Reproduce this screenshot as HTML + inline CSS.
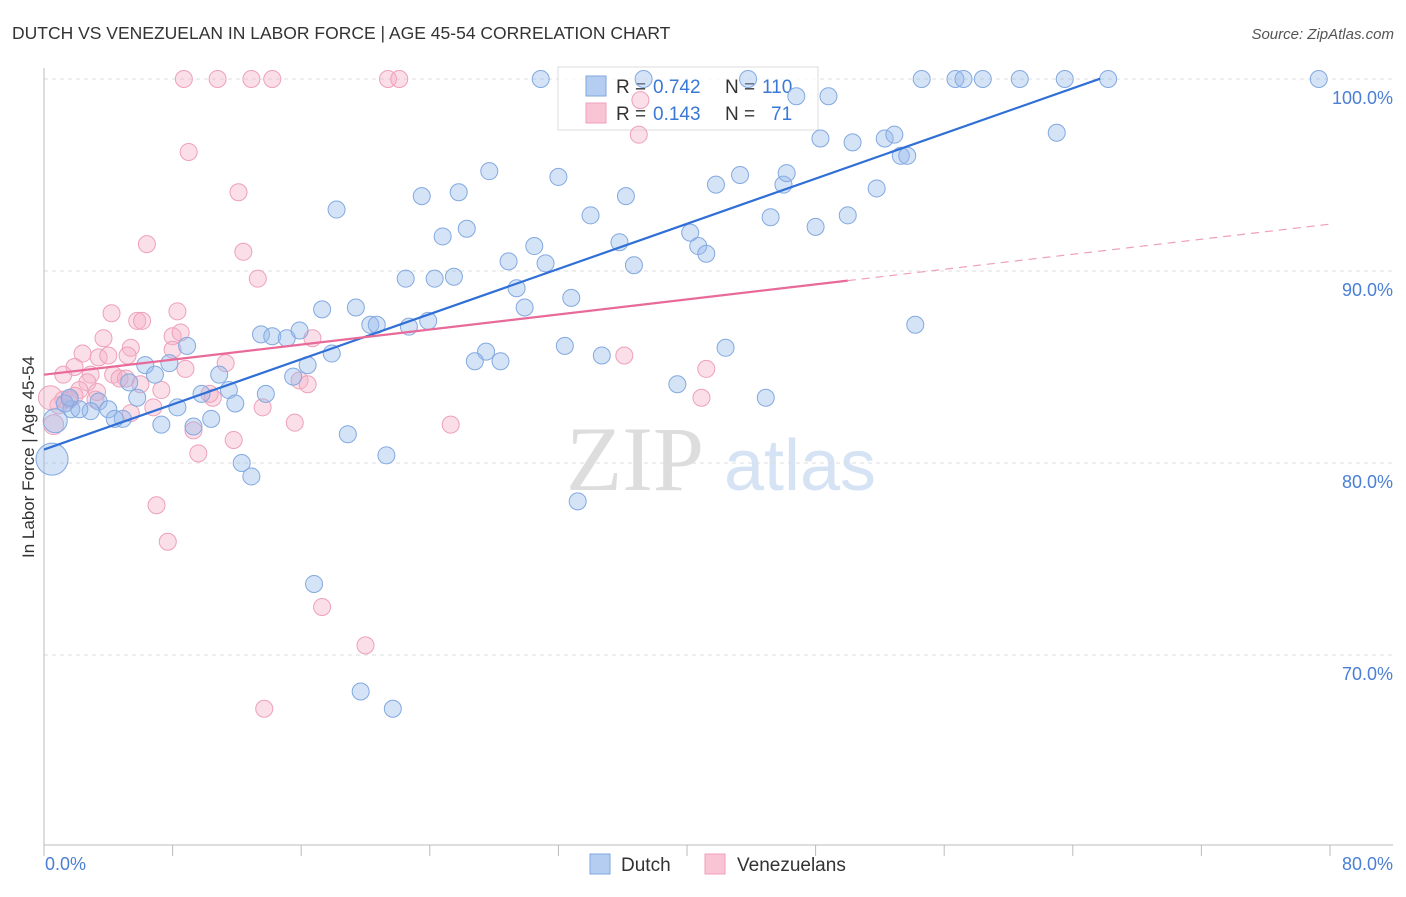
<!DOCTYPE html>
<html><head><meta charset="utf-8"><style>
body{margin:0;background:#fff;}
svg text{font-family:"Liberation Sans",sans-serif;}
</style></head><body>
<svg id="chart" width="1406" height="892" xmlns="http://www.w3.org/2000/svg">
<text x="12" y="39" font-size="17.5" fill="#333">DUTCH VS VENEZUELAN IN LABOR FORCE | AGE 45-54 CORRELATION CHART</text>
<text x="1394" y="39" font-size="15" fill="#555" font-style="italic" text-anchor="end">Source: ZipAtlas.com</text>
<text transform="translate(34,457) rotate(-90)" font-size="17" fill="#333" text-anchor="middle">In Labor Force | Age 45-54</text>
<g>
<text x="635" y="490" font-size="92" fill="#ddd" text-anchor="middle" style="font-family:'Liberation Serif',serif">ZIP</text>
<text x="800" y="490" font-size="72" fill="#d5e3f5" text-anchor="middle">atlas</text>
</g>
<g id="grid"></g><g id="axes"></g>
<g>
<rect x="558" y="67" width="260" height="63" fill="#fff" fill-opacity="0.75" stroke="#ddd"/>
<rect x="586" y="76" width="20" height="20" fill="#b5cdf0" stroke="#7fa6df"/>
<text x="616" y="93" font-size="19" fill="#333">R =</text>
<text x="653" y="93" font-size="19" fill="#3a78d6">0.742</text>
<text x="725" y="93" font-size="19" fill="#333">N =</text>
<text x="762" y="93" font-size="19" fill="#3a78d6">110</text>
<rect x="586" y="103" width="20" height="20" fill="#f9c5d5" stroke="#eea0ba"/>
<text x="616" y="120" font-size="19" fill="#333">R =</text>
<text x="653" y="120" font-size="19" fill="#3a78d6">0.143</text>
<text x="725" y="120" font-size="19" fill="#333">N =</text>
<text x="771" y="120" font-size="19" fill="#3a78d6">71</text>
</g>
<g id="marks"></g>
<g>
<rect x="590" y="854" width="20" height="20" fill="#b5cdf0" stroke="#7fa6df"/>
<text x="621" y="871" font-size="19" fill="#333">Dutch</text>
<rect x="705" y="854" width="20" height="20" fill="#f9c5d5" stroke="#eea0ba"/>
<text x="737" y="871" font-size="19" fill="#333">Venezuelans</text>
</g>
</svg>
<script>
const yTicks=[100,90,80,70];
const yTickLabels=["100.0%","90.0%","80.0%","70.0%"];
const xTickValues=[0,8,16,24,32,40,48,56,64,72,80];
const xEndLabels=["0.0%","80.0%"];
const dutchX=[30.9,37.3,43.8,54.6,56.7,57.2,58.4,60.7,63.5,66.2,79.3,48.8,46.8,48.3,50.3,52.3,52.9,53.3,53.7,63.0,32.0,27.7,25.8,23.5,18.2,34.0,36.2,43.3,41.8,46.0,46.2,51.8,45.2,48.0,50.0,26.3,24.8,30.5,28.9,31.2,35.8,36.7,40.2,40.7,41.2,22.5,24.3,25.5,29.4,32.8,17.3,19.4,29.9,20.3,20.7,22.7,23.9,13.5,14.2,15.1,15.9,16.4,17.9,8.9,6.3,7.8,6.9,5.3,10.9,15.5,13.8,11.5,9.8,11.9,5.8,8.3,3.4,2.9,4.0,4.9,4.4,7.3,9.3,10.4,1.7,2.2,1.3,1.6,12.3,12.9,18.9,21.3,27.5,26.8,28.4,32.4,34.7,39.4,42.4,44.9,54.2,33.2,16.8,19.7,21.7,0.5,0.7];
const dutchY=[100,100,100,100,100,100,100,100,100,100,100,99.1,99.1,96.9,96.7,96.9,97.1,96.0,96.0,97.2,94.9,95.2,94.1,93.9,93.2,92.9,93.9,95.0,94.5,94.5,95.1,94.3,92.8,92.3,92.9,92.2,91.8,91.3,90.5,90.4,91.5,90.3,92.0,91.3,90.9,89.6,89.6,89.7,89.1,88.6,88.0,88.1,88.1,87.2,87.2,87.1,87.4,86.7,86.6,86.5,86.9,85.1,85.7,86.1,85.1,85.2,84.6,84.2,84.6,84.5,83.6,83.8,83.6,83.1,83.4,82.9,83.2,82.7,82.8,82.3,82.3,82.0,81.9,82.3,82.8,82.8,83.1,83.4,80.0,79.3,81.5,80.4,85.8,85.3,85.3,86.1,85.6,84.1,86.0,83.4,87.2,78.0,73.7,68.1,67.2,80.2,82.2];
const venX=[8.7,10.8,12.9,14.2,21.4,22.1,37.1,37.0,9.0,12.1,6.4,12.4,13.3,4.2,5.8,6.1,8.3,3.7,5.4,8.0,8.5,16.7,2.4,3.4,4.0,5.2,8.0,11.3,8.8,1.2,1.9,2.9,4.3,4.7,5.1,2.7,2.2,3.3,6.0,7.3,10.5,15.9,16.4,1.9,1.2,0.9,1.6,3.2,6.8,5.4,9.3,11.8,15.6,25.3,36.1,41.2,40.9,9.6,7.0,7.7,17.3,20.0,13.7,13.6,10.3,0.4,0.6];
const venY=[100,100,100,100,100,100,98.9,97.1,96.2,94.1,91.4,91.0,89.6,87.8,87.4,87.4,87.9,86.5,86.0,86.6,86.8,86.5,85.7,85.5,85.6,85.6,85.9,85.2,84.9,84.6,85.0,84.6,84.6,84.4,84.4,84.2,83.8,83.7,84.1,83.8,83.4,84.3,84.1,83.5,83.3,83.0,83.3,83.3,82.9,82.6,81.7,81.2,82.1,82.0,85.6,84.9,83.4,80.5,77.8,75.9,72.5,70.5,67.2,82.9,83.6,83.4,82.0];
const dutchTrend=[80.7,0.294,65.7];
const venTrend=[84.6,0.098,50.0];

const NS="http://www.w3.org/2000/svg";
const X=v=>44+v*16.075;
const Y=v=>79+(100-v)*19.2;
function mk(tag,attrs,parent){const e=document.createElementNS(NS,tag);for(const k in attrs)e.setAttribute(k,attrs[k]);parent.appendChild(e);return e;}
const grid=document.getElementById('grid'),axes=document.getElementById('axes'),marks=document.getElementById('marks');
yTicks.forEach((t,i)=>{
 const l=mk('line',{x1:44,x2:1393,y1:Y(t),y2:Y(t),stroke:'#ddd','stroke-dasharray':'4,4'},grid);
 
 
 const tx=mk('text',{x:1393,y:Y(t)+25,'font-size':18,fill:'#4a7fd4','text-anchor':'end'},axes);
 tx.textContent=yTickLabels[i];
 
 
});
let a=mk('line',{x1:44,x2:44,y1:68,y2:845,stroke:'#bbb'},axes);


a=mk('line',{x1:44,x2:1393,y1:845,y2:845,stroke:'#bbb'},axes);


xTickValues.forEach(t=>{
 const l=mk('line',{x1:X(t),x2:X(t),y1:845,y2:856,stroke:'#bbb'},axes);
 
 
});
let xl=mk('text',{x:45,y:870,'font-size':18,fill:'#4a7fd4'},axes);xl.textContent=xEndLabels[0];


xl=mk('text',{x:1393,y:870,'font-size':18,fill:'#4a7fd4','text-anchor':'end'},axes);xl.textContent=xEndLabels[1];



function pts(xs,ys,fill,stroke,name,bigA,bigB){
 xs.forEach((x,i)=>{
  let r=8.5;
  if(i===xs.length-2)r=bigA;
  if(i===xs.length-1)r=bigB;
  const c=mk('circle',{cx:X(x),cy:Y(ys[i]),r:r,fill:fill,stroke:stroke,'stroke-width':1},marks);
  
  
 });
}
pts(venX,venY,'rgba(246,175,198,0.4)','#eea0ba','venezuelan-point',12,10);
pts(dutchX,dutchY,'rgba(150,185,235,0.4)','#82a9e0','dutch-point',16,12);
let tl=mk('line',{x1:X(0),y1:Y(dutchTrend[0]),x2:X(dutchTrend[2]),y2:Y(dutchTrend[0]+dutchTrend[1]*dutchTrend[2]),stroke:'#2f6fd6','stroke-width':2.2},marks);


tl=mk('line',{x1:X(0),y1:Y(venTrend[0]),x2:X(venTrend[2]),y2:Y(venTrend[0]+venTrend[1]*venTrend[2]),stroke:'#e86a98','stroke-width':2.2},marks);


tl=mk('line',{x1:X(venTrend[2]),y1:Y(venTrend[0]+venTrend[1]*venTrend[2]),x2:X(80),y2:Y(venTrend[0]+venTrend[1]*80),stroke:'#eea0ba','stroke-width':1.2,'stroke-dasharray':'8,6'},marks);


</script>
</body></html>
